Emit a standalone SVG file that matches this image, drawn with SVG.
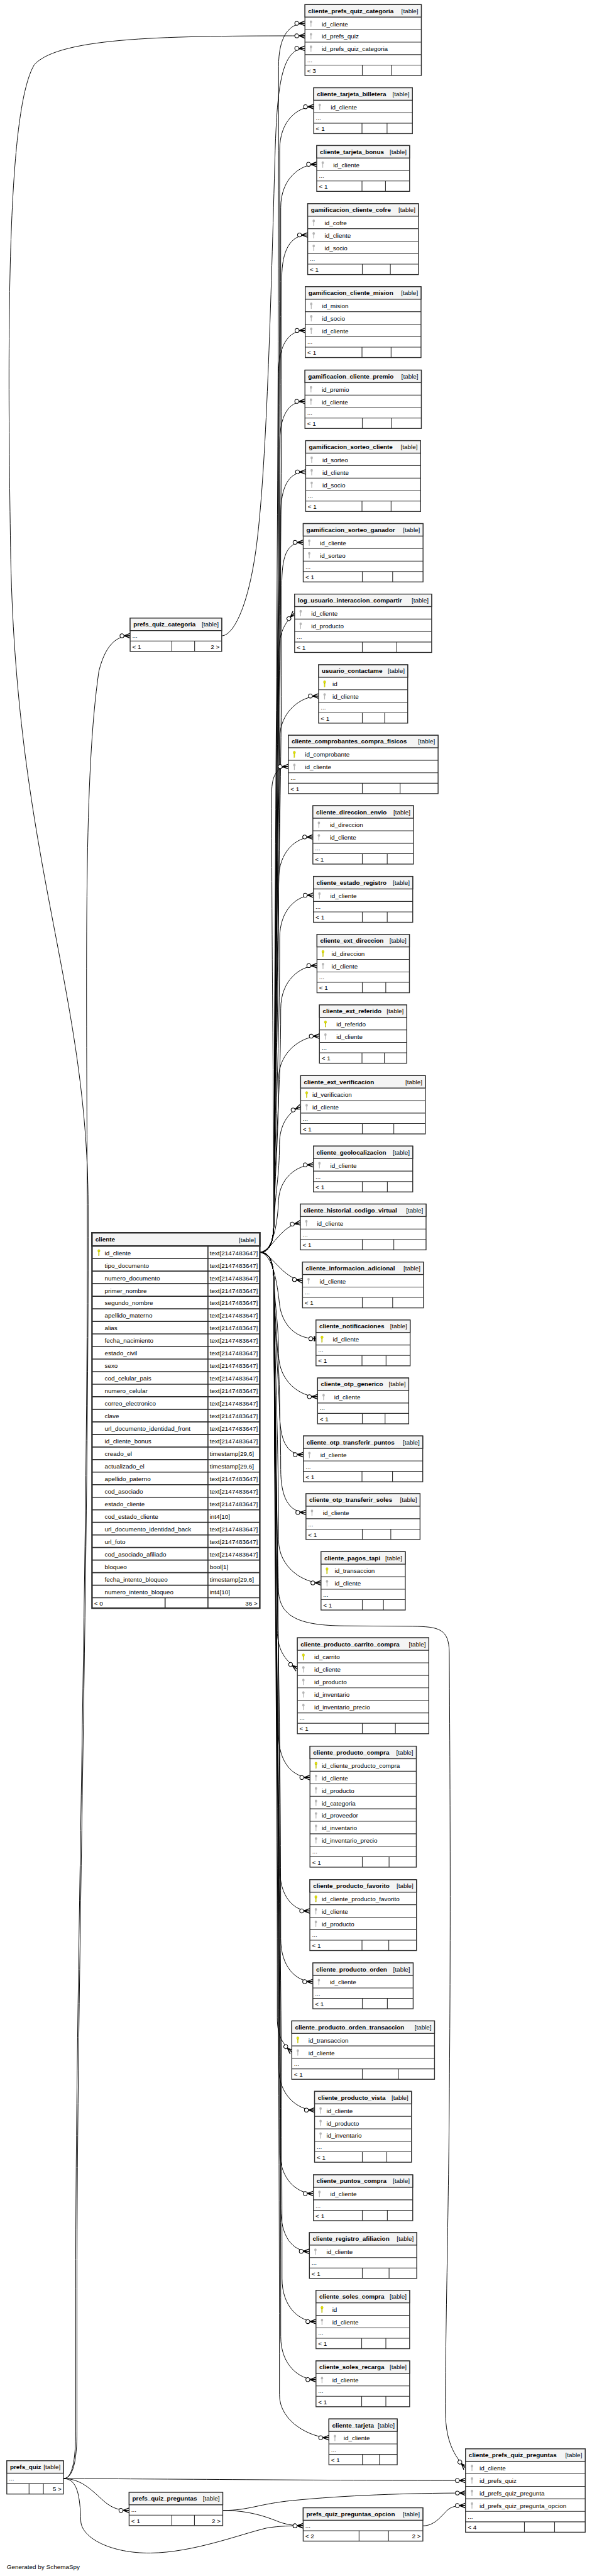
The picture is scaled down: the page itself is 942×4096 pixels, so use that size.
<svg xmlns="http://www.w3.org/2000/svg" width="942" height="4096" viewBox="0 0 942 4096">
<style>
.n{fill:#fff;stroke:#2e2e2e;stroke-width:2}
.h{fill:#f4f4f4;stroke:#2e2e2e;stroke-width:2}
.l{fill:none;stroke:#2e2e2e;stroke-width:1.6}
text{font-family:"Liberation Sans",Arial,sans-serif;font-size:14.5px;fill:#000}
.b{font-weight:bold}
.r{text-anchor:end}
.e{fill:none;stroke:#000;stroke-width:1.4;marker-end:url(#cf)}
.o{fill:none;stroke:#000;stroke-width:1.4;marker-end:url(#oo)}
</style>
<defs>
<marker id="cf" markerUnits="userSpaceOnUse" orient="auto" viewBox="-26 -8 28 16" refX="0" refY="0" markerWidth="28" markerHeight="16" overflow="visible">
<path d="M-14,0L0,-5.5M-14,0L0,0M-14,0L0,5.5" fill="none" stroke="#000" stroke-width="2"/>
<circle cx="-19" cy="0" r="4.6" fill="#fff" stroke="#000" stroke-width="1.5"/>
</marker>
<marker id="oo" markerUnits="userSpaceOnUse" orient="auto" viewBox="-26 -8 28 16" refX="0" refY="0" markerWidth="28" markerHeight="16" overflow="visible">
<path d="M-3.5,-6V6" fill="none" stroke="#000" stroke-width="3.5"/>
<circle cx="-12" cy="0" r="4.6" fill="#fff" stroke="#000" stroke-width="1.5"/>
</marker>
<g id="kg"><ellipse cx="0" cy="-3.5" rx="2.7" ry="3.2" fill="#b5b5b5"/><rect x="-0.9" y="-1" width="1.8" height="9" fill="#b5b5b5"/></g>
<g id="ky"><ellipse cx="0" cy="-3.5" rx="2.7" ry="3.2" fill="#e2e200" stroke="#a3a300" stroke-width="0.5"/><rect x="-0.9" y="-1" width="1.8" height="9" fill="#e2e200" stroke="#a3a300" stroke-width="0.5"/></g>
</defs>
<rect width="942" height="4096" fill="#fff"/>
<g transform="scale(0.6841)">
<g id="connectors">
<path class="e" d="M605,2910.7C628,2910.7 636,2885 637,2845C640,1768.7 648,1230.5 648,154.2C648,89.2 669.3,54.2 709.3,54.2"/>
<path class="e" d="M605,2910.7C628,2910.7 636,2885 637,2845C640,1846.2 650.5,1346.9 650.5,348.1C650.5,283.1 689.7,248.1 729.7,248.1"/>
<path class="e" d="M605,2910.7C628,2910.7 636,2885 637,2845C640,1899.8 653,1427.1 653,481.9C653,416.9 696.7,381.9 736.7,381.9"/>
<path class="e" d="M605,2910.7C628,2910.7 636,2885 637,2845C640,1965.4 655.5,1525.7 655.5,646.1C655.5,581.1 675.7,546.1 715.7,546.1"/>
<path class="e" d="M605,2910.7C628,2910.7 636,2885 637,2845C640,2054.2 648,1658.9 648,868.1C648,803.1 670,768.1 710,768.1"/>
<path class="e" d="M605,2910.7C628,2910.7 636,2885 637,2845C640,2120.2 650.5,1757.7 650.5,1032.9C650.5,967.9 669.3,932.9 709.3,932.9"/>
<path class="e" d="M605,2910.7C628,2910.7 636,2885 637,2845C640,2185.7 653,1856.1 653,1196.8C653,1131.8 671,1096.8 711,1096.8"/>
<path class="e" d="M605,2910.7C628,2910.7 636,2885 637,2845C640,2251.2 655.5,1954.3 655.5,1360.5C655.5,1295.5 665.3,1260.5 705.3,1260.5"/>
<path class="e" d="M605,2910.7C628,2910.7 636,2885 637,2845C640,2319 648,2056 648,1530C648,1480 655,1455 685.3,1424.4"/>
<path class="e" d="M605,2910.7C628,2910.7 636,2885 637,2845C640,2394.1 650.5,2168.7 650.5,1717.8C650.5,1652.8 701,1617.8 741,1617.8"/>
<path class="e" d="M605,2910.7C628,2910.7 636,2885 637,2845C636,2443.6 632,2243 632,1841.6C632,1802.6 645,1781.6 670.7,1781.6"/>
<path class="e" d="M605,2910.7C628,2910.7 636,2885 637,2845C640,2525.2 648,2365.2 648,2045.4C648,1980.4 687.7,1945.4 727.7,1945.4"/>
<path class="e" d="M605,2910.7C628,2910.7 636,2885 637,2845C640,2579.3 650.5,2446.4 650.5,2180.7C650.5,2115.7 689,2080.7 729,2080.7"/>
<path class="e" d="M605,2910.7C628,2910.7 636,2885 637,2845C640,2644.8 653,2544.7 653,2344.5C653,2279.5 697.3,2244.5 737.3,2244.5"/>
<path class="e" d="M605,2910.7C628,2910.7 636,2885 637,2845C640,2710.3 648,2643 648,2508.3C648,2443.3 703,2408.3 743,2408.3"/>
<path class="e" d="M605,2910.7C628,2910.7 636,2885 637,2845C640,2771 650,2734 650,2660C650,2615 670,2585 699.3,2572.6"/>
<path class="e" d="M605,2910.7C630,2910.7 645,2860 648,2790C650,2740 689,2707.4 729,2707.4"/>
<path class="e" d="M605,2910.7C635,2905 650,2850 698.7,2842.1"/>
<path class="e" d="M605,2910.7C635,2915 655,2970 703.7,2976.9"/>
<path class="o" d="M605,2910.7C635,2915 645,2985 650,3030C654,3070 680,3111.6 735,3111.6"/>
<path class="e" d="M605,2910.7C628,2910.7 636,2935 637,2975C640,3043.6 648,3077.8 648,3146.4C648,3211.4 698.7,3246.4 738.7,3246.4"/>
<path class="e" d="M605,2910.7C628,2910.7 636,2935 637,2975C640,3097.4 650.5,3158.7 650.5,3281.1C650.5,3346.1 665.7,3381.1 705.7,3381.1"/>
<path class="e" d="M605,2910.7C628,2910.7 636,2935 637,2975C640,3151.2 653,3239.2 653,3415.4C653,3480.4 671.7,3515.4 711.7,3515.4"/>
<path class="e" d="M605,2910.7C628,2910.7 636,2935 637,2975C640,3216.7 648,3337.5 648,3579.2C648,3644.2 706.7,3679.2 746.7,3679.2"/>
<path class="e" d="M605,2910.7C628,2910.7 636,2935 637,2975C640,3301 645,3464 645,3790C645,3830 660,3858 691.7,3879.4"/>
<path class="e" d="M605,2910.7C628,2910.7 636,2935 637,2975C640,3397.6 648,3608.8 648,4031.4C648,4096.4 681,4131.4 721,4131.4"/>
<path class="e" d="M605,2910.7C628,2910.7 636,2935 637,2975C640,3521.6 650.5,3795 650.5,4341.6C650.5,4406.6 680.7,4441.6 720.7,4441.6"/>
<path class="e" d="M605,2910.7C628,2910.7 636,2935 637,2975C640,3587.4 653,3893.6 653,4506C653,4571 687.7,4606 727.7,4606"/>
<path class="e" d="M605,2910.7C628,2910.7 636,2935 637,2975C640,3661 645,4004 645,4690C645,4730 655,4748 678.7,4769.9"/>
<path class="e" d="M605,2910.7C628,2910.7 636,2935 637,2975C640,3706.8 648,4072.7 648,4804.5C648,4869.5 691.7,4904.5 731.7,4904.5"/>
<path class="e" d="M605,2910.7C628,2910.7 636,2935 637,2975C640,3784.4 650.5,4189.1 650.5,4998.5C650.5,5063.5 689,5098.5 729,5098.5"/>
<path class="e" d="M605,2910.7C628,2910.7 636,2935 637,2975C640,3838.1 653,4269.7 653,5132.8C653,5197.8 679.7,5232.8 719.7,5232.8"/>
<path class="e" d="M605,2910.7C628,2910.7 636,2935 637,2975C640,3903.4 656,4367.7 656,5296.1C656,5361.1 695,5396.1 735,5396.1"/>
<path class="e" d="M605,2910.7C628,2910.7 636,2935 637,2975C640,3957.4 653,4448.6 653,5431C653,5496 695,5531 735,5531"/>
<path class="e" d="M605,2910.7C628,2910.7 636,2935 637,2975C640,4011.4 650,4529.5 650,5565.9C650,5630.9 725,5665.9 765,5665.9"/>
<path class="e" d="M605,2910.7C628,2910.7 636,2935 637,2975C640,3300 645,3600 648,3700C652,3760 700,3778 800,3779L960,3780C1020,3781 1044,3785 1045,3840C1048,4300 1048,4600 1044,5000C1040,5300 1036,5450 1036,5600C1036,5660 1048,5700 1082.8,5736.4"/>
<path class="e" d="M147.5,5761C400,5762 800,5765.5 1082.8,5765.5"/>
<path class="e" d="M147.5,5761C190,5761 215,5790 240,5812C255,5825 270,5835 300.3,5835"/>
<path class="e" d="M147.5,5761C180,5761 186,5800 188,5860C190,5900 260,5935 350,5934C450,5933 560,5890 620,5876C650,5870.8 680,5870.8 705.2,5870.8"/>
<path class="e" d="M518.1,5835C580,5835 620,5850 650,5862C670,5869 690,5870.8 705.2,5870.8"/>
<path class="e" d="M518.1,5835C580,5835 600,5820 680,5812C800,5800 950,5794.6 1082.8,5794.6"/>
<path class="e" d="M983.6,5870.8C1010,5870.8 1025,5850 1040,5835C1050,5826 1060,5823.7 1082.8,5823.7"/>
<path class="e" d="M147.5,5761C168,5761 176,5720 176,5650L176,5320C176,4600 205,3600 203,2800C201,2200 195,1800 230,1560C245,1500 270,1477.8 302.7,1477.8"/>
<path class="e" d="M147.5,5761C170,5761 179,5720 179,5650L179,5320C179,4600 207,3600 205,2800C203,2300 40,2000 25,1300C15,700 20,250 80,150C140,85 400,83.3 709.3,83.3"/>
<path class="e" d="M515.7,1477.8C540,1477.8 575,1420 595,1280C620,1100 630,700 640,350C645,200 655,112.4 709.3,112.4"/>
</g>
<g id="nodes">
<g id="cliente" transform="translate(214,2865.4)">
<rect class="n" width="390.3" height="872.5" style="stroke-width:3.5"/>
<rect class="h" width="390.3" height="30.7" style="stroke-width:3.5"/>
<path class="l" d="M0,59.9H390.3M0,89.1H390.3M0,118.3H390.3M0,147.5H390.3M0,176.7H390.3M0,205.9H390.3M0,235.1H390.3M0,264.3H390.3M0,293.5H390.3M0,322.7H390.3M0,351.9H390.3M0,381.1H390.3M0,410.3H390.3M0,439.5H390.3M0,468.7H390.3M0,497.9H390.3M0,527.1H390.3M0,556.3H390.3M0,585.5H390.3M0,614.7H390.3M0,643.9H390.3M0,673.1H390.3M0,702.3H390.3M0,731.5H390.3M0,760.7H390.3M0,789.9H390.3M0,819.1H390.3M0,848.3H390.3M269.7,30.7V848.3M170,848.3V872.5M269.7,848.3V872.5" style="stroke-width:2.4"/>
<text class="b" x="7.7" y="20.5">cliente</text><text class="r" x="381" y="21">[table]</text>
<use href="#ky" x="16" y="45.3"/>
<text x="29.3" y="51.7">id_cliente</text><text x="273.7" y="51.7">text[2147483647]</text>
<text x="29.3" y="80.9">tipo_documento</text><text x="273.7" y="80.9">text[2147483647]</text>
<text x="29.3" y="110.1">numero_documento</text><text x="273.7" y="110.1">text[2147483647]</text>
<text x="29.3" y="139.3">primer_nombre</text><text x="273.7" y="139.3">text[2147483647]</text>
<text x="29.3" y="168.5">segundo_nombre</text><text x="273.7" y="168.5">text[2147483647]</text>
<text x="29.3" y="197.7">apellido_materno</text><text x="273.7" y="197.7">text[2147483647]</text>
<text x="29.3" y="226.9">alias</text><text x="273.7" y="226.9">text[2147483647]</text>
<text x="29.3" y="256.1">fecha_nacimiento</text><text x="273.7" y="256.1">text[2147483647]</text>
<text x="29.3" y="285.3">estado_civil</text><text x="273.7" y="285.3">text[2147483647]</text>
<text x="29.3" y="314.5">sexo</text><text x="273.7" y="314.5">text[2147483647]</text>
<text x="29.3" y="343.7">cod_celular_pais</text><text x="273.7" y="343.7">text[2147483647]</text>
<text x="29.3" y="372.9">numero_celular</text><text x="273.7" y="372.9">text[2147483647]</text>
<text x="29.3" y="402.1">correo_electronico</text><text x="273.7" y="402.1">text[2147483647]</text>
<text x="29.3" y="431.3">clave</text><text x="273.7" y="431.3">text[2147483647]</text>
<text x="29.3" y="460.5">url_documento_identidad_front</text><text x="273.7" y="460.5">text[2147483647]</text>
<text x="29.3" y="489.7">id_cliente_bonus</text><text x="273.7" y="489.7">text[2147483647]</text>
<text x="29.3" y="518.9">creado_el</text><text x="273.7" y="518.9">timestamp[29,6]</text>
<text x="29.3" y="548.1">actualizado_el</text><text x="273.7" y="548.1">timestamp[29,6]</text>
<text x="29.3" y="577.3">apellido_paterno</text><text x="273.7" y="577.3">text[2147483647]</text>
<text x="29.3" y="606.5">cod_asociado</text><text x="273.7" y="606.5">text[2147483647]</text>
<text x="29.3" y="635.7">estado_cliente</text><text x="273.7" y="635.7">text[2147483647]</text>
<text x="29.3" y="664.9">cod_estado_cliente</text><text x="273.7" y="664.9">int4[10]</text>
<text x="29.3" y="694.1">url_documento_identidad_back</text><text x="273.7" y="694.1">text[2147483647]</text>
<text x="29.3" y="723.3">url_foto</text><text x="273.7" y="723.3">text[2147483647]</text>
<text x="29.3" y="752.5">cod_asociado_afiliado</text><text x="273.7" y="752.5">text[2147483647]</text>
<text x="29.3" y="781.7">bloqueo</text><text x="273.7" y="781.7">bool[1]</text>
<text x="29.3" y="810.9">fecha_intento_bloqueo</text><text x="273.7" y="810.9">timestamp[29,6]</text>
<text x="29.3" y="840.1">numero_intento_bloqueo</text><text x="273.7" y="840.1">int4[10]</text>
<text x="5" y="866.5">&lt; 0</text><text class="r" x="385" y="866.5">36 &gt;</text>
</g>
<g id="cliente_prefs_quiz_categoria" transform="translate(709.3,10.7)">
<rect class="n" width="270.7" height="164.7"/><rect class="h" width="270.7" height="29"/>
<path class="l" d="M0,58.1H270.7M0,87.2H270.7M0,116.3H270.7M0,140.5H270.7M133.4,140.5V164.7M201,140.5V164.7"/>
<text class="b" x="7.5" y="19.5">cliente_prefs_quiz_categoria</text><text class="r" x="263.7" y="19.5">[table]</text>
<use href="#kg" x="14" y="43.5"/><text x="39" y="50">id_cliente</text>
<use href="#kg" x="14" y="72.6"/><text x="39" y="79.1">id_prefs_quiz</text>
<use href="#kg" x="14" y="101.7"/><text x="39" y="108.2">id_prefs_quiz_categoria</text>
<text x="5" y="133.3">...</text><text x="5" y="158.5">&lt; 3</text>
</g>
<g id="cliente_tarjeta_billetera" transform="translate(729.7,204)">
<rect class="n" width="229.6" height="106.5"/><rect class="h" width="229.6" height="29"/>
<path class="l" d="M0,58.1H229.6M0,82.3H229.6M112.3,82.3V106.5M170.6,82.3V106.5"/>
<text class="b" x="7.5" y="19.5">cliente_tarjeta_billetera</text><text class="r" x="222.6" y="19.5">[table]</text>
<use href="#kg" x="14" y="43.5"/><text x="39.6" y="50">id_cliente</text>
<text x="5" y="75.1">...</text><text x="5" y="100.3">&lt; 1</text>
</g>
<g id="cliente_tarjeta_bonus" transform="translate(736.7,338.3)">
<rect class="n" width="216" height="106.5"/><rect class="h" width="216" height="29"/>
<path class="l" d="M0,58.1H216M0,82.3H216M105.3,82.3V106.5M160,82.3V106.5"/>
<text class="b" x="7.5" y="19.5">cliente_tarjeta_bonus</text><text class="r" x="209" y="19.5">[table]</text>
<use href="#kg" x="14" y="43.5"/><text x="38.3" y="50">id_cliente</text>
<text x="5" y="75.1">...</text><text x="5" y="100.3">&lt; 1</text>
</g>
<g id="gamificacion_cliente_cofre" transform="translate(715.7,473.5)">
<rect class="n" width="257.6" height="164.7"/><rect class="h" width="257.6" height="29"/>
<path class="l" d="M0,58.1H257.6M0,87.2H257.6M0,116.3H257.6M0,140.5H257.6M127,140.5V164.7M192.3,140.5V164.7"/>
<text class="b" x="7.5" y="19.5">gamificacion_cliente_cofre</text><text class="r" x="250.6" y="19.5">[table]</text>
<use href="#kg" x="14" y="43.5"/><text x="39.3" y="50">id_cofre</text>
<use href="#kg" x="14" y="72.6"/><text x="39.3" y="79.1">id_cliente</text>
<use href="#kg" x="14" y="101.7"/><text x="39.3" y="108.2">id_socio</text>
<text x="5" y="133.3">...</text><text x="5" y="158.5">&lt; 1</text>
</g>
<g id="gamificacion_cliente_mision" transform="translate(710,666.4)">
<rect class="n" width="269.3" height="164.7"/><rect class="h" width="269.3" height="29"/>
<path class="l" d="M0,58.1H269.3M0,87.2H269.3M0,116.3H269.3M0,140.5H269.3M132,140.5V164.7M199.7,140.5V164.7"/>
<text class="b" x="7.5" y="19.5">gamificacion_cliente_mision</text><text class="r" x="262.3" y="19.5">[table]</text>
<use href="#kg" x="14" y="43.5"/><text x="39.3" y="50">id_mision</text>
<use href="#kg" x="14" y="72.6"/><text x="39.3" y="79.1">id_socio</text>
<use href="#kg" x="14" y="101.7"/><text x="39.3" y="108.2">id_cliente</text>
<text x="5" y="133.3">...</text><text x="5" y="158.5">&lt; 1</text>
</g>
<g id="gamificacion_cliente_premio" transform="translate(709.3,860.3)">
<rect class="n" width="270.7" height="135.6"/><rect class="h" width="270.7" height="29"/>
<path class="l" d="M0,58.1H270.7M0,87.2H270.7M0,111.4H270.7M133.4,111.4V135.6M201,111.4V135.6"/>
<text class="b" x="7.5" y="19.5">gamificacion_cliente_premio</text><text class="r" x="263.7" y="19.5">[table]</text>
<use href="#kg" x="14" y="43.5"/><text x="39" y="50">id_premio</text>
<use href="#kg" x="14" y="72.6"/><text x="39" y="79.1">id_cliente</text>
<text x="5" y="104.2">...</text><text x="5" y="129.4">&lt; 1</text>
</g>
<g id="gamificacion_sorteo_cliente" transform="translate(711,1024.2)">
<rect class="n" width="267.3" height="164.7"/><rect class="h" width="267.3" height="29"/>
<path class="l" d="M0,58.1H267.3M0,87.2H267.3M0,116.3H267.3M0,140.5H267.3M131,140.5V164.7M198.7,140.5V164.7"/>
<text class="b" x="7.5" y="19.5">gamificacion_sorteo_cliente</text><text class="r" x="260.3" y="19.5">[table]</text>
<use href="#kg" x="14" y="43.5"/><text x="39" y="50">id_sorteo</text>
<use href="#kg" x="14" y="72.6"/><text x="39" y="79.1">id_cliente</text>
<use href="#kg" x="14" y="101.7"/><text x="39" y="108.2">id_socio</text>
<text x="5" y="133.3">...</text><text x="5" y="158.5">&lt; 1</text>
</g>
<g id="gamificacion_sorteo_ganador" transform="translate(705.3,1217)">
<rect class="n" width="278.7" height="135.6"/><rect class="h" width="278.7" height="29"/>
<path class="l" d="M0,58.1H278.7M0,87.2H278.7M0,111.4H278.7M137.4,111.4V135.6M208,111.4V135.6"/>
<text class="b" x="7.5" y="19.5">gamificacion_sorteo_ganador</text><text class="r" x="271.7" y="19.5">[table]</text>
<use href="#kg" x="14" y="43.5"/><text x="38.7" y="50">id_cliente</text>
<use href="#kg" x="14" y="72.6"/><text x="38.7" y="79.1">id_sorteo</text>
<text x="5" y="104.2">...</text><text x="5" y="129.4">&lt; 1</text>
</g>
<g id="log_usuario_interaccion_compartir" transform="translate(685.3,1380.9)">
<rect class="n" width="318.7" height="135.6"/><rect class="h" width="318.7" height="29"/>
<path class="l" d="M0,58.1H318.7M0,87.2H318.7M0,111.4H318.7M157.4,111.4V135.6M237.4,111.4V135.6"/>
<text class="b" x="7.5" y="19.5">log_usuario_interaccion_compartir</text><text class="r" x="311.7" y="19.5">[table]</text>
<use href="#kg" x="14" y="43.5"/><text x="38.7" y="50">id_cliente</text>
<use href="#kg" x="14" y="72.6"/><text x="38.7" y="79.1">id_producto</text>
<text x="5" y="104.2">...</text><text x="5" y="129.4">&lt; 1</text>
</g>
<g id="usuario_contactame" transform="translate(741,1545.2)">
<rect class="n" width="207.3" height="135.6"/><rect class="h" width="207.3" height="29"/>
<path class="l" d="M0,58.1H207.3M0,87.2H207.3M0,111.4H207.3M101.7,111.4V135.6M153.7,111.4V135.6"/>
<text class="b" x="7.5" y="19.5">usuario_contactame</text><text class="r" x="200.3" y="19.5">[table]</text>
<use href="#ky" x="14" y="43.5"/><text x="32.3" y="50">id</text>
<use href="#kg" x="14" y="72.6"/><text x="32.3" y="79.1">id_cliente</text>
<text x="5" y="104.2">...</text><text x="5" y="129.4">&lt; 1</text>
</g>
<g id="cliente_comprobantes_compra_fisicos" transform="translate(670.7,1709)">
<rect class="n" width="348.3" height="135.6"/><rect class="h" width="348.3" height="29"/>
<path class="l" d="M0,58.1H348.3M0,87.2H348.3M0,111.4H348.3M172,111.4V135.6M260,111.4V135.6"/>
<text class="b" x="7.5" y="19.5">cliente_comprobantes_compra_fisicos</text><text class="r" x="341.3" y="19.5">[table]</text>
<use href="#ky" x="14" y="43.5"/><text x="38.6" y="50">id_comprobante</text>
<use href="#kg" x="14" y="72.6"/><text x="38.6" y="79.1">id_cliente</text>
<text x="5" y="104.2">...</text><text x="5" y="129.4">&lt; 1</text>
</g>
<g id="cliente_direccion_envio" transform="translate(727.7,1872.8)">
<rect class="n" width="234" height="135.6"/><rect class="h" width="234" height="29"/>
<path class="l" d="M0,58.1H234M0,87.2H234M0,111.4H234M115,111.4V135.6M173,111.4V135.6"/>
<text class="b" x="7.5" y="19.5">cliente_direccion_envio</text><text class="r" x="227" y="19.5">[table]</text>
<use href="#kg" x="14" y="43.5"/><text x="39.6" y="50">id_direccion</text>
<use href="#kg" x="14" y="72.6"/><text x="39.6" y="79.1">id_cliente</text>
<text x="5" y="104.2">...</text><text x="5" y="129.4">&lt; 1</text>
</g>
<g id="cliente_estado_registro" transform="translate(729,2037.2)">
<rect class="n" width="231" height="106.5"/><rect class="h" width="231" height="29"/>
<path class="l" d="M0,58.1H231M0,82.3H231M113.7,82.3V106.5M171.7,82.3V106.5"/>
<text class="b" x="7.5" y="19.5">cliente_estado_registro</text><text class="r" x="224" y="19.5">[table]</text>
<use href="#kg" x="14" y="43.5"/><text x="39.3" y="50">id_cliente</text>
<text x="5" y="75.1">...</text><text x="5" y="100.3">&lt; 1</text>
</g>
<g id="cliente_ext_direccion" transform="translate(737.3,2171.9)">
<rect class="n" width="215" height="135.6"/><rect class="h" width="215" height="29"/>
<path class="l" d="M0,58.1H215M0,87.2H215M0,111.4H215M105.4,111.4V135.6M160,111.4V135.6"/>
<text class="b" x="7.5" y="19.5">cliente_ext_direccion</text><text class="r" x="208" y="19.5">[table]</text>
<use href="#ky" x="14" y="43.5"/><text x="33.7" y="50">id_direccion</text>
<use href="#kg" x="14" y="72.6"/><text x="33.7" y="79.1">id_cliente</text>
<text x="5" y="104.2">...</text><text x="5" y="129.4">&lt; 1</text>
</g>
<g id="cliente_ext_referido" transform="translate(743,2335.7)">
<rect class="n" width="203" height="135.6"/><rect class="h" width="203" height="29"/>
<path class="l" d="M0,58.1H203M0,87.2H203M0,111.4H203M99,111.4V135.6M151,111.4V135.6"/>
<text class="b" x="7.5" y="19.5">cliente_ext_referido</text><text class="r" x="196" y="19.5">[table]</text>
<use href="#ky" x="14" y="43.5"/><text x="39.3" y="50">id_referido</text>
<use href="#kg" x="14" y="72.6"/><text x="39.3" y="79.1">id_cliente</text>
<text x="5" y="104.2">...</text><text x="5" y="129.4">&lt; 1</text>
</g>
<g id="cliente_ext_verificacion" transform="translate(699.3,2500)">
<rect class="n" width="290" height="135.6"/><rect class="h" width="290" height="29"/>
<path class="l" d="M0,58.1H290M0,87.2H290M0,111.4H290M143.4,111.4V135.6M216.7,111.4V135.6"/>
<text class="b" x="7.5" y="19.5">cliente_ext_verificacion</text><text class="r" x="283" y="19.5">[table]</text>
<use href="#ky" x="14" y="43.5"/><text x="27.3" y="50">id_verificacion</text>
<use href="#kg" x="14" y="72.6"/><text x="27.3" y="79.1">id_cliente</text>
<text x="5" y="104.2">...</text><text x="5" y="129.4">&lt; 1</text>
</g>
<g id="cliente_geolocalizacion" transform="translate(729,2663.9)">
<rect class="n" width="231" height="106.5"/><rect class="h" width="231" height="29"/>
<path class="l" d="M0,58.1H231M0,82.3H231M113.7,82.3V106.5M172,82.3V106.5"/>
<text class="b" x="7.5" y="19.5">cliente_geolocalizacion</text><text class="r" x="224" y="19.5">[table]</text>
<use href="#kg" x="14" y="43.5"/><text x="39.3" y="50">id_cliente</text>
<text x="5" y="75.1">...</text><text x="5" y="100.3">&lt; 1</text>
</g>
<g id="cliente_historial_codigo_virtual" transform="translate(698.7,2798.6)">
<rect class="n" width="292.3" height="106.5"/><rect class="h" width="292.3" height="29"/>
<path class="l" d="M0,58.1H292.3M0,82.3H292.3M144,82.3V106.5M217.3,82.3V106.5"/>
<text class="b" x="7.5" y="19.5">cliente_historial_codigo_virtual</text><text class="r" x="285.3" y="19.5">[table]</text>
<use href="#kg" x="14" y="43.5"/><text x="38.6" y="50">id_cliente</text>
<text x="5" y="75.1">...</text><text x="5" y="100.3">&lt; 1</text>
</g>
<g id="cliente_informacion_adicional" transform="translate(703.7,2933.4)">
<rect class="n" width="281.3" height="106.5"/><rect class="h" width="281.3" height="29"/>
<path class="l" d="M0,58.1H281.3M0,82.3H281.3M139,82.3V106.5M209.6,82.3V106.5"/>
<text class="b" x="7.5" y="19.5">cliente_informacion_adicional</text><text class="r" x="274.3" y="19.5">[table]</text>
<use href="#kg" x="14" y="43.5"/><text x="39.6" y="50">id_cliente</text>
<text x="5" y="75.1">...</text><text x="5" y="100.3">&lt; 1</text>
</g>
<g id="cliente_notificaciones" transform="translate(735,3068.1)">
<rect class="n" width="219" height="106.5"/><rect class="h" width="219" height="29"/>
<path class="l" d="M0,58.1H219M0,82.3H219M107,82.3V106.5M163,82.3V106.5"/>
<text class="b" x="7.5" y="19.5">cliente_notificaciones</text><text class="r" x="212" y="19.5">[table]</text>
<use href="#ky" x="14" y="43.5"/><text x="39" y="50">id_cliente</text>
<text x="5" y="75.1">...</text><text x="5" y="100.3">&lt; 1</text>
</g>
<g id="cliente_otp_generico" transform="translate(738.7,3202.9)">
<rect class="n" width="212" height="106.5"/><rect class="h" width="212" height="29"/>
<path class="l" d="M0,58.1H212M0,82.3H212M104,82.3V106.5M157,82.3V106.5"/>
<text class="b" x="7.5" y="19.5">cliente_otp_generico</text><text class="r" x="205" y="19.5">[table]</text>
<use href="#kg" x="14" y="43.5"/><text x="38.6" y="50">id_cliente</text>
<text x="5" y="75.1">...</text><text x="5" y="100.3">&lt; 1</text>
</g>
<g id="cliente_otp_transferir_puntos" transform="translate(705.7,3337.6)">
<rect class="n" width="277.6" height="106.5"/><rect class="h" width="277.6" height="29"/>
<path class="l" d="M0,58.1H277.6M0,82.3H277.6M136.3,82.3V106.5M207.3,82.3V106.5"/>
<text class="b" x="7.5" y="19.5">cliente_otp_transferir_puntos</text><text class="r" x="270.6" y="19.5">[table]</text>
<use href="#kg" x="14" y="43.5"/><text x="39.3" y="50">id_cliente</text>
<text x="5" y="75.1">...</text><text x="5" y="100.3">&lt; 1</text>
</g>
<g id="cliente_otp_transferir_soles" transform="translate(711.7,3471.9)">
<rect class="n" width="265.3" height="106.5"/><rect class="h" width="265.3" height="29"/>
<path class="l" d="M0,58.1H265.3M0,82.3H265.3M131,82.3V106.5M197.3,82.3V106.5"/>
<text class="b" x="7.5" y="19.5">cliente_otp_transferir_soles</text><text class="r" x="258.3" y="19.5">[table]</text>
<use href="#kg" x="14" y="43.5"/><text x="39.3" y="50">id_cliente</text>
<text x="5" y="75.1">...</text><text x="5" y="100.3">&lt; 1</text>
</g>
<g id="cliente_pagos_tapi" transform="translate(746.7,3606.6)">
<rect class="n" width="196" height="135.6"/><rect class="h" width="196" height="29"/>
<path class="l" d="M0,58.1H196M0,87.2H196M0,111.4H196M96,111.4V135.6M145.3,111.4V135.6"/>
<text class="b" x="7.5" y="19.5">cliente_pagos_tapi</text><text class="r" x="189" y="19.5">[table]</text>
<use href="#ky" x="14" y="43.5"/><text x="31.6" y="50">id_transaccion</text>
<use href="#kg" x="14" y="72.6"/><text x="31.6" y="79.1">id_cliente</text>
<text x="5" y="104.2">...</text><text x="5" y="129.4">&lt; 1</text>
</g>
<g id="cliente_producto_carrito_compra" transform="translate(691.7,3806.8)">
<rect class="n" width="305.6" height="222.9"/><rect class="h" width="305.6" height="29"/>
<path class="l" d="M0,58.1H305.6M0,87.2H305.6M0,116.3H305.6M0,145.4H305.6M0,174.5H305.6M0,198.7H305.6M151,198.7V222.9M228,198.7V222.9"/>
<text class="b" x="7.5" y="19.5">cliente_producto_carrito_compra</text><text class="r" x="298.6" y="19.5">[table]</text>
<use href="#ky" x="14" y="43.5"/><text x="39.3" y="50">id_carrito</text>
<use href="#kg" x="14" y="72.6"/><text x="39.3" y="79.1">id_cliente</text>
<use href="#kg" x="14" y="101.7"/><text x="39.3" y="108.2">id_producto</text>
<use href="#kg" x="14" y="130.8"/><text x="39.3" y="137.3">id_inventario</text>
<use href="#kg" x="14" y="159.9"/><text x="39.3" y="166.4">id_inventario_precio</text>
<text x="5" y="191.5">...</text><text x="5" y="216.7">&lt; 1</text>
</g>
<g id="cliente_producto_compra" transform="translate(721,4058.8)">
<rect class="n" width="247.3" height="281.1"/><rect class="h" width="247.3" height="29"/>
<path class="l" d="M0,58.1H247.3M0,87.2H247.3M0,116.3H247.3M0,145.4H247.3M0,174.5H247.3M0,203.6H247.3M0,232.7H247.3M0,256.9H247.3M121.7,256.9V281.1M184,256.9V281.1"/>
<text class="b" x="7.5" y="19.5">cliente_producto_compra</text><text class="r" x="240.3" y="19.5">[table]</text>
<use href="#ky" x="14" y="43.5"/><text x="27.3" y="50">id_cliente_producto_compra</text>
<use href="#kg" x="14" y="72.6"/><text x="27.3" y="79.1">id_cliente</text>
<use href="#kg" x="14" y="101.7"/><text x="27.3" y="108.2">id_producto</text>
<use href="#kg" x="14" y="130.8"/><text x="27.3" y="137.3">id_categoria</text>
<use href="#kg" x="14" y="159.9"/><text x="27.3" y="166.4">id_proveedor</text>
<use href="#kg" x="14" y="189"/><text x="27.3" y="195.5">id_inventario</text>
<use href="#kg" x="14" y="218.1"/><text x="27.3" y="224.6">id_inventario_precio</text>
<text x="5" y="249.7">...</text><text x="5" y="274.9">&lt; 1</text>
</g>
<g id="cliente_producto_favorito" transform="translate(720.7,4369)">
<rect class="n" width="248" height="164.7"/><rect class="h" width="248" height="29"/>
<path class="l" d="M0,58.1H248M0,87.2H248M0,116.3H248M0,140.5H248M121.3,140.5V164.7M183.6,140.5V164.7"/>
<text class="b" x="7.5" y="19.5">cliente_producto_favorito</text><text class="r" x="241" y="19.5">[table]</text>
<use href="#ky" x="14" y="43.5"/><text x="27.6" y="50">id_cliente_producto_favorito</text>
<use href="#kg" x="14" y="72.6"/><text x="27.6" y="79.1">id_cliente</text>
<use href="#kg" x="14" y="101.7"/><text x="27.6" y="108.2">id_producto</text>
<text x="5" y="133.3">...</text><text x="5" y="158.5">&lt; 1</text>
</g>
<g id="cliente_producto_orden" transform="translate(727.7,4562.5)">
<rect class="n" width="233.3" height="106.5"/><rect class="h" width="233.3" height="29"/>
<path class="l" d="M0,58.1H233.3M0,82.3H233.3M115,82.3V106.5M173.3,82.3V106.5"/>
<text class="b" x="7.5" y="19.5">cliente_producto_orden</text><text class="r" x="226.3" y="19.5">[table]</text>
<use href="#kg" x="14" y="43.5"/><text x="39.6" y="50">id_cliente</text>
<text x="5" y="75.1">...</text><text x="5" y="100.3">&lt; 1</text>
</g>
<g id="cliente_producto_orden_transaccion" transform="translate(678.7,4697.3)">
<rect class="n" width="332" height="135.6"/><rect class="h" width="332" height="29"/>
<path class="l" d="M0,58.1H332M0,87.2H332M0,111.4H332M164,111.4V135.6M248,111.4V135.6"/>
<text class="b" x="7.5" y="19.5">cliente_producto_orden_transaccion</text><text class="r" x="325" y="19.5">[table]</text>
<use href="#ky" x="14" y="43.5"/><text x="38.6" y="50">id_transaccion</text>
<use href="#kg" x="14" y="72.6"/><text x="38.6" y="79.1">id_cliente</text>
<text x="5" y="104.2">...</text><text x="5" y="129.4">&lt; 1</text>
</g>
<g id="cliente_producto_vista" transform="translate(731.7,4861)">
<rect class="n" width="225.3" height="164.7"/><rect class="h" width="225.3" height="29"/>
<path class="l" d="M0,58.1H225.3M0,87.2H225.3M0,116.3H225.3M0,140.5H225.3M111,140.5V164.7M168,140.5V164.7"/>
<text class="b" x="7.5" y="19.5">cliente_producto_vista</text><text class="r" x="218.3" y="19.5">[table]</text>
<use href="#kg" x="14" y="43.5"/><text x="27.6" y="50">id_cliente</text>
<use href="#kg" x="14" y="72.6"/><text x="27.6" y="79.1">id_producto</text>
<use href="#kg" x="14" y="101.7"/><text x="27.6" y="108.2">id_inventario</text>
<text x="5" y="133.3">...</text><text x="5" y="158.5">&lt; 1</text>
</g>
<g id="cliente_puntos_compra" transform="translate(729,5055)">
<rect class="n" width="231" height="106.5"/><rect class="h" width="231" height="29"/>
<path class="l" d="M0,58.1H231M0,82.3H231M113.7,82.3V106.5M172,82.3V106.5"/>
<text class="b" x="7.5" y="19.5">cliente_puntos_compra</text><text class="r" x="224" y="19.5">[table]</text>
<use href="#kg" x="14" y="43.5"/><text x="39.3" y="50">id_cliente</text>
<text x="5" y="75.1">...</text><text x="5" y="100.3">&lt; 1</text>
</g>
<g id="cliente_registro_afiliacion" transform="translate(719.7,5189.3)">
<rect class="n" width="249.6" height="106.5"/><rect class="h" width="249.6" height="29"/>
<path class="l" d="M0,58.1H249.6M0,82.3H249.6M123,82.3V106.5M185.3,82.3V106.5"/>
<text class="b" x="7.5" y="19.5">cliente_registro_afiliacion</text><text class="r" x="242.6" y="19.5">[table]</text>
<use href="#kg" x="14" y="43.5"/><text x="39.6" y="50">id_cliente</text>
<text x="5" y="75.1">...</text><text x="5" y="100.3">&lt; 1</text>
</g>
<g id="cliente_soles_compra" transform="translate(735,5323.5)">
<rect class="n" width="217.8" height="135.6"/><rect class="h" width="217.8" height="29"/>
<path class="l" d="M0,58.1H217.8M0,87.2H217.8M0,111.4H217.8M106.3,111.4V135.6M162.5,111.4V135.6"/>
<text class="b" x="7.5" y="19.5">cliente_soles_compra</text><text class="r" x="210.8" y="19.5">[table]</text>
<use href="#ky" x="14" y="43.5"/><text x="37.8" y="50">id</text>
<use href="#kg" x="14" y="72.6"/><text x="37.8" y="79.1">id_cliente</text>
<text x="5" y="104.2">...</text><text x="5" y="129.4">&lt; 1</text>
</g>
<g id="cliente_soles_recarga" transform="translate(735,5487.5)">
<rect class="n" width="217.8" height="106.5"/><rect class="h" width="217.8" height="29"/>
<path class="l" d="M0,58.1H217.8M0,82.3H217.8M106.3,82.3V106.5M162.5,82.3V106.5"/>
<text class="b" x="7.5" y="19.5">cliente_soles_recarga</text><text class="r" x="210.8" y="19.5">[table]</text>
<use href="#kg" x="14" y="43.5"/><text x="37.8" y="50">id_cliente</text>
<text x="5" y="75.1">...</text><text x="5" y="100.3">&lt; 1</text>
</g>
<g id="cliente_tarjeta" transform="translate(765,5622.4)">
<rect class="n" width="158.9" height="106.5"/><rect class="h" width="158.9" height="29"/>
<path class="l" d="M0,58.1H158.9M0,82.3H158.9M78,82.3V106.5M117.6,82.3V106.5"/>
<text class="b" x="7.5" y="19.5">cliente_tarjeta</text><text class="r" x="153" y="19.5">[table]</text>
<use href="#kg" x="14" y="43.5"/><text x="34.2" y="50">id_cliente</text>
<text x="5" y="75.1">...</text><text x="5" y="100.3">&lt; 1</text>
</g>
<g id="cliente_prefs_quiz_preguntas" transform="translate(1082.8,5691.9)">
<rect class="n" width="278.4" height="193.8"/><rect class="h" width="278.4" height="29"/>
<path class="l" d="M0,58.1H278.4M0,87.2H278.4M0,116.3H278.4M0,145.4H278.4M0,169.6H278.4M137,169.6V193.8M207.2,169.6V193.8"/>
<text class="b" x="7.5" y="19.5">cliente_prefs_quiz_preguntas</text><text class="r" x="271.4" y="19.5">[table]</text>
<use href="#kg" x="15" y="43.5"/><text x="32.5" y="50">id_cliente</text>
<use href="#kg" x="15" y="72.6"/><text x="32.5" y="79.1">id_prefs_quiz</text>
<use href="#kg" x="15" y="101.7"/><text x="32.5" y="108.2">id_prefs_quiz_pregunta</text>
<use href="#kg" x="15" y="130.8"/><text x="32.5" y="137.3">id_prefs_quiz_pregunta_opcion</text>
<text x="5" y="162.4">...</text><text x="5" y="187.6">&lt; 4</text>
</g>
<g id="prefs_quiz" transform="translate(15.8,5719.5)">
<rect class="n" width="131.7" height="77.4"/><rect class="h" width="131.7" height="29"/>
<path class="l" d="M0,53.2H131.7M51.8,53.2V77.4M85.2,53.2V77.4"/>
<text class="b" x="7.5" y="19.5">prefs_quiz</text><text class="r" x="125" y="19.5">[table]</text>
<text x="5" y="46">...</text><text class="r" x="127" y="71.2">5 &gt;</text>
</g>
<g id="prefs_quiz_preguntas" transform="translate(300.3,5792.9)">
<rect class="n" width="217.8" height="77.4"/><rect class="h" width="217.8" height="29"/>
<path class="l" d="M0,53.2H217.8M99.3,53.2V77.4M152,53.2V77.4"/>
<text class="b" x="7.5" y="19.5">prefs_quiz_preguntas</text><text class="r" x="210.8" y="19.5">[table]</text>
<text x="5" y="46">...</text><text x="5" y="71.2">&lt; 1</text><text class="r" x="212.8" y="71.2">2 &gt;</text>
</g>
<g id="prefs_quiz_preguntas_opcion" transform="translate(705.2,5828.9)">
<rect class="n" width="278.4" height="77.4"/><rect class="h" width="278.4" height="29"/>
<path class="l" d="M0,53.2H278.4M130,53.2V77.4M198.5,53.2V77.4"/>
<text class="b" x="7.5" y="19.5">prefs_quiz_preguntas_opcion</text><text class="r" x="271.4" y="19.5">[table]</text>
<text x="5" y="46">...</text><text x="5" y="71.2">&lt; 2</text><text class="r" x="273.4" y="71.2">2 &gt;</text>
</g>
<g id="prefs_quiz_categoria" transform="translate(302.7,1436.7)">
<rect class="n" width="213" height="77.4"/><rect class="h" width="213" height="29"/>
<path class="l" d="M0,53.2H213M97,53.2V77.4M150,53.2V77.4"/>
<text class="b" x="7.5" y="19.5">prefs_quiz_categoria</text><text class="r" x="206" y="19.5">[table]</text>
<text x="5" y="46">...</text><text x="5" y="71.2">&lt; 1</text><text class="r" x="208" y="71.2">2 &gt;</text>
</g>
</g>
<text x="15.8" y="5972">Generated by SchemaSpy</text>
</g>
</svg>
